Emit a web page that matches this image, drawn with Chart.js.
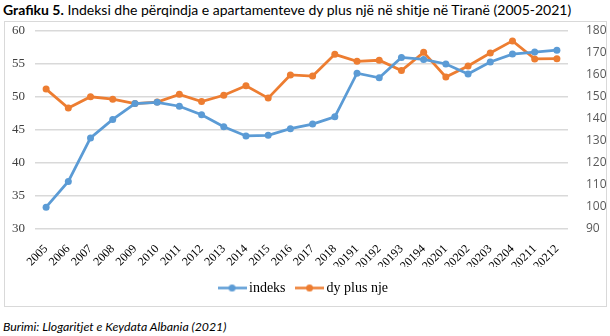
<!DOCTYPE html>
<html>
<head>
<meta charset="utf-8">
<script src="https://cdn.jsdelivr.net/npm/chart.js@4/dist/chart.umd.min.js"></script>
<style>
  body { margin: 0; width: 610px; height: 336px; background: #fff; position: relative; overflow: hidden; }
  #title { position: absolute; left: 3px; top: 1px; font-family: Lato, "Open Sans", sans-serif; font-size: 14px; color: #000; white-space: nowrap; }
  #box { position: absolute; left: 4px; top: 21px; width: 601px; height: 284px; border: 1px solid #d9d9d9; }
  #wrap { position: absolute; left: 0; top: 0; width: 610px; height: 310px; }
  #source { position: absolute; left: 3px; top: 319px; font-family: Lato, "Open Sans", sans-serif; font-style: italic; font-size: 12.3px; color: #000; white-space: nowrap; }
</style>
</head>
<body>
<div id="title"><b>Grafiku 5.</b> Indeksi dhe përqindja e apartamenteve dy plus një në shitje në Tiranë (2005-2021)</div>
<div id="box"></div>
<div id="wrap"><canvas id="chart"></canvas></div>
<div id="source">Burimi: Llogaritjet e Keydata Albania (2021)</div>
<script>
const periods = ["2005", "2006", "2007", "2008", "2009", "2010", "2011", "2012", "2013", "2014",
  "2015", "2016", "2017", "2018", "20191", "20192", "20193", "20194", "20201", "20202",
  "20203", "20204", "20211", "20212"];

// left axis
const indeks = [33.3, 37.2, 43.8, 46.6, 49.0, 49.2, 48.6, 47.3, 45.5, 44.1,
  44.2, 45.2, 45.9, 47.0, 53.6, 52.9, 56.0, 55.7, 55.0, 53.5,
  55.3, 56.5, 56.8, 57.1];

// right axis
const dyPlusNje = [153.6, 145.0, 150.1, 149.0, 147.0, 147.7, 151.2, 147.9, 150.8, 155.1,
  149.5, 160.0, 159.5, 169.4, 166.2, 166.7, 162.0, 170.3, 159.1, 164.1,
  170.0, 175.5, 167.3, 167.4];

const leftTicks = [30, 35, 40, 45, 50, 55, 60];
const rightTicks = [90, 100, 110, 120, 130, 140, 150, 160, 170, 180];

const BLUE = "#5b9bd5";
const ORANGE = "#ed7d31";

// small line-with-dot swatch for the legend
function swatch(color) {
  const c = document.createElement("canvas");
  c.width = 29;
  c.height = 9;
  const g = c.getContext("2d");
  g.strokeStyle = color;
  g.lineWidth = 2.5;
  g.beginPath();
  g.moveTo(0, 4.5);
  g.lineTo(29, 4.5);
  g.stroke();
  g.fillStyle = color;
  g.beginPath();
  g.arc(14.5, 4.5, 3.5, 0, Math.PI * 2);
  g.fill();
  return c;
}

new Chart(document.getElementById("chart"), {
  type: "line",
  data: {
    labels: periods,
    datasets: [
      {
        label: "indeks",
        data: indeks,
        yAxisID: "y",
        borderColor: BLUE,
        backgroundColor: BLUE,
        borderWidth: 2.75,
        pointRadius: 3.5,
        pointBorderWidth: 0,
        tension: 0,
      },
      {
        label: "dy plus nje",
        data: dyPlusNje,
        yAxisID: "y1",
        borderColor: ORANGE,
        backgroundColor: ORANGE,
        borderWidth: 2.75,
        pointRadius: 3.5,
        pointBorderWidth: 0,
        tension: 0,
      },
    ],
  },
  options: {
    responsive: true,
    maintainAspectRatio: false,
    animation: false,
    layout: { padding: { top: 31, right: 0, left: 0, bottom: 5 } },
    plugins: {
      title: { display: false },
      tooltip: { enabled: false },
      legend: {
        position: "bottom",
        labels: {
          usePointStyle: true,
          pointStyleWidth: 20,
          padding: 14,
          color: "#000",
          font: { family: "Liberation Serif", size: 14 },
          generateLabels: (chart) =>
            chart.data.datasets.map((ds, i) => ({
              text: ds.label,
              pointStyle: swatch(ds.borderColor),
              fillStyle: ds.borderColor,
              strokeStyle: ds.borderColor,
              lineWidth: 0,
              datasetIndex: i,
              fontColor: "#000",
            })),
        },
      },
    },
    scales: {
      x: {
        offset: true,
        grid: { display: false },
        border: { display: false },
        ticks: {
          autoSkip: false,
          minRotation: 45,
          maxRotation: 45,
          padding: 5,
          color: "#000",
          font: { family: "Liberation Serif", size: 12 },
        },
        afterFit: (s) => { s.height = 38; },
      },
      y: {
        position: "left",
        min: 30,
        max: 60,
        afterBuildTicks: (s) => { s.ticks = leftTicks.map((v) => ({ value: v })); },
        grid: { color: "#d9d9d9", lineWidth: 1.5, drawTicks: false },
        border: { display: false },
        ticks: {
          padding: 10,
          color: "#404040",
          font: { family: "Liberation Serif", size: 13 },
        },
        afterFit: (s) => { s.width = 35; },
      },
      y1: {
        position: "right",
        min: 90,
        max: 180,
        afterBuildTicks: (s) => { s.ticks = rightTicks.map((v) => ({ value: v })); },
        grid: { display: false },
        border: { display: false },
        ticks: {
          padding: 10,
          color: "#595959",
          font: { family: "Open Sans", size: 12 },
        },
        afterFit: (s) => { s.width = 42; },
      },
    },
  },
});
</script>
</body>
</html>
